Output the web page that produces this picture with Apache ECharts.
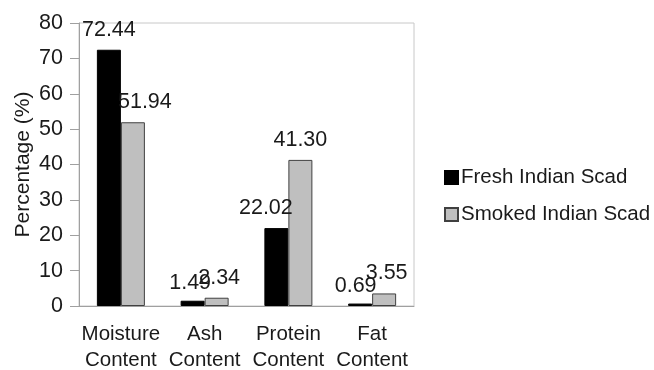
<!DOCTYPE html>
<html>
<head>
<meta charset="utf-8">
<script src="https://cdn.jsdelivr.net/npm/echarts@6/dist/echarts.min.js"></script>
<style>
html,body{margin:0;padding:0;background:#fff;}
#c{width:654px;height:370px;}
</style>
</head>
<body>
<div id="c"></div>
<script>
const categories = ['Moisture\nContent', 'Ash\nContent', 'Protein\nContent', 'Fat\nContent'];
const seriesNames = ['Fresh Indian Scad', 'Smoked Indian Scad'];
const freshValues = [72.44, 1.49, 22.02, 0.69];
const smokedValues = [51.94, 2.34, 41.30, 3.55];
const yMin = 0, yMax = 80, yInterval = 10;

// label nudges (px) to mimic the original label placement
const freshLabelOffsets = [[0, 0], [-2.5, 2], [-10.5, 0], [-4.5, 3]];
const smokedLabelOffsets = [[12, 0], [2.5, 0], [0, 0], [2.5, 0]];

const FONT = 'Liberation Sans, Arial, sans-serif';

function buildData(values, offsets) {
  return values.map((v, i) => ({ value: v, label: { offset: offsets[i] } }));
}

const chart = echarts.init(document.getElementById('c'), null, { renderer: 'canvas' });
chart.setOption({
  animation: false,
  backgroundColor: '#ffffff',
  grid: {
    left: 79, right: 240, top: 23, bottom: 64,
    outerBoundsMode: 'none',
    containLabel: false,
    show: true, borderColor: '#c8c8c8', borderWidth: 1, backgroundColor: 'transparent'
  },
  legend: {
    orient: 'vertical',
    left: 439, top: 162,
    icon: 'rect',
    itemWidth: 13, itemHeight: 13, itemGap: 16,
    data: seriesNames,
    textStyle: { fontFamily: FONT, fontSize: 20.5, color: '#1a1a1a', padding: [0, 0, 0, -2] }
  },
  xAxis: {
    type: 'category',
    data: categories,
    axisLine: { show: true, lineStyle: { color: '#a0a0a0', width: 1 } },
    axisTick: { show: false },
    axisLabel: { fontFamily: FONT, fontSize: 20.5, color: '#1a1a1a', lineHeight: 26, margin: 15, interval: 0 },
    splitLine: { show: false }
  },
  yAxis: {
    type: 'value',
    min: yMin, max: yMax, interval: yInterval,
    name: 'Percentage (%)',
    nameLocation: 'middle',
    nameGap: 45,
    nameMoveOverlap: false,
    nameTextStyle: { fontFamily: FONT, fontSize: 21, color: '#1a1a1a' },
    axisLine: { show: true, lineStyle: { color: '#a0a0a0', width: 1 } },
    axisTick: { show: true, inside: false, length: 9, lineStyle: { color: '#a0a0a0' } },
    axisLabel: { fontFamily: FONT, fontSize: 21.5, color: '#1a1a1a', margin: 16 },
    splitLine: { show: false }
  },
  series: [
    {
      name: seriesNames[0],
      type: 'bar',
      barWidth: 24,
      barGap: '0%',
      data: buildData(freshValues, freshLabelOffsets),
      itemStyle: { color: '#000000', borderColor: '#000000', borderWidth: 1 },
      label: {
        show: true, position: 'top', distance: 9,
        fontFamily: FONT, fontSize: 21.5, color: '#1a1a1a',
        formatter: p => p.value.toFixed(2)
      }
    },
    {
      name: seriesNames[1],
      type: 'bar',
      barWidth: 24,
      data: buildData(smokedValues, smokedLabelOffsets),
      itemStyle: { color: '#bfbfbf', borderColor: '#404040', borderWidth: 1 },
      label: {
        show: true, position: 'top', distance: 9,
        fontFamily: FONT, fontSize: 21.5, color: '#1a1a1a',
        formatter: p => p.value.toFixed(2)
      }
    }
  ]
});
</script>
</body>
</html>
